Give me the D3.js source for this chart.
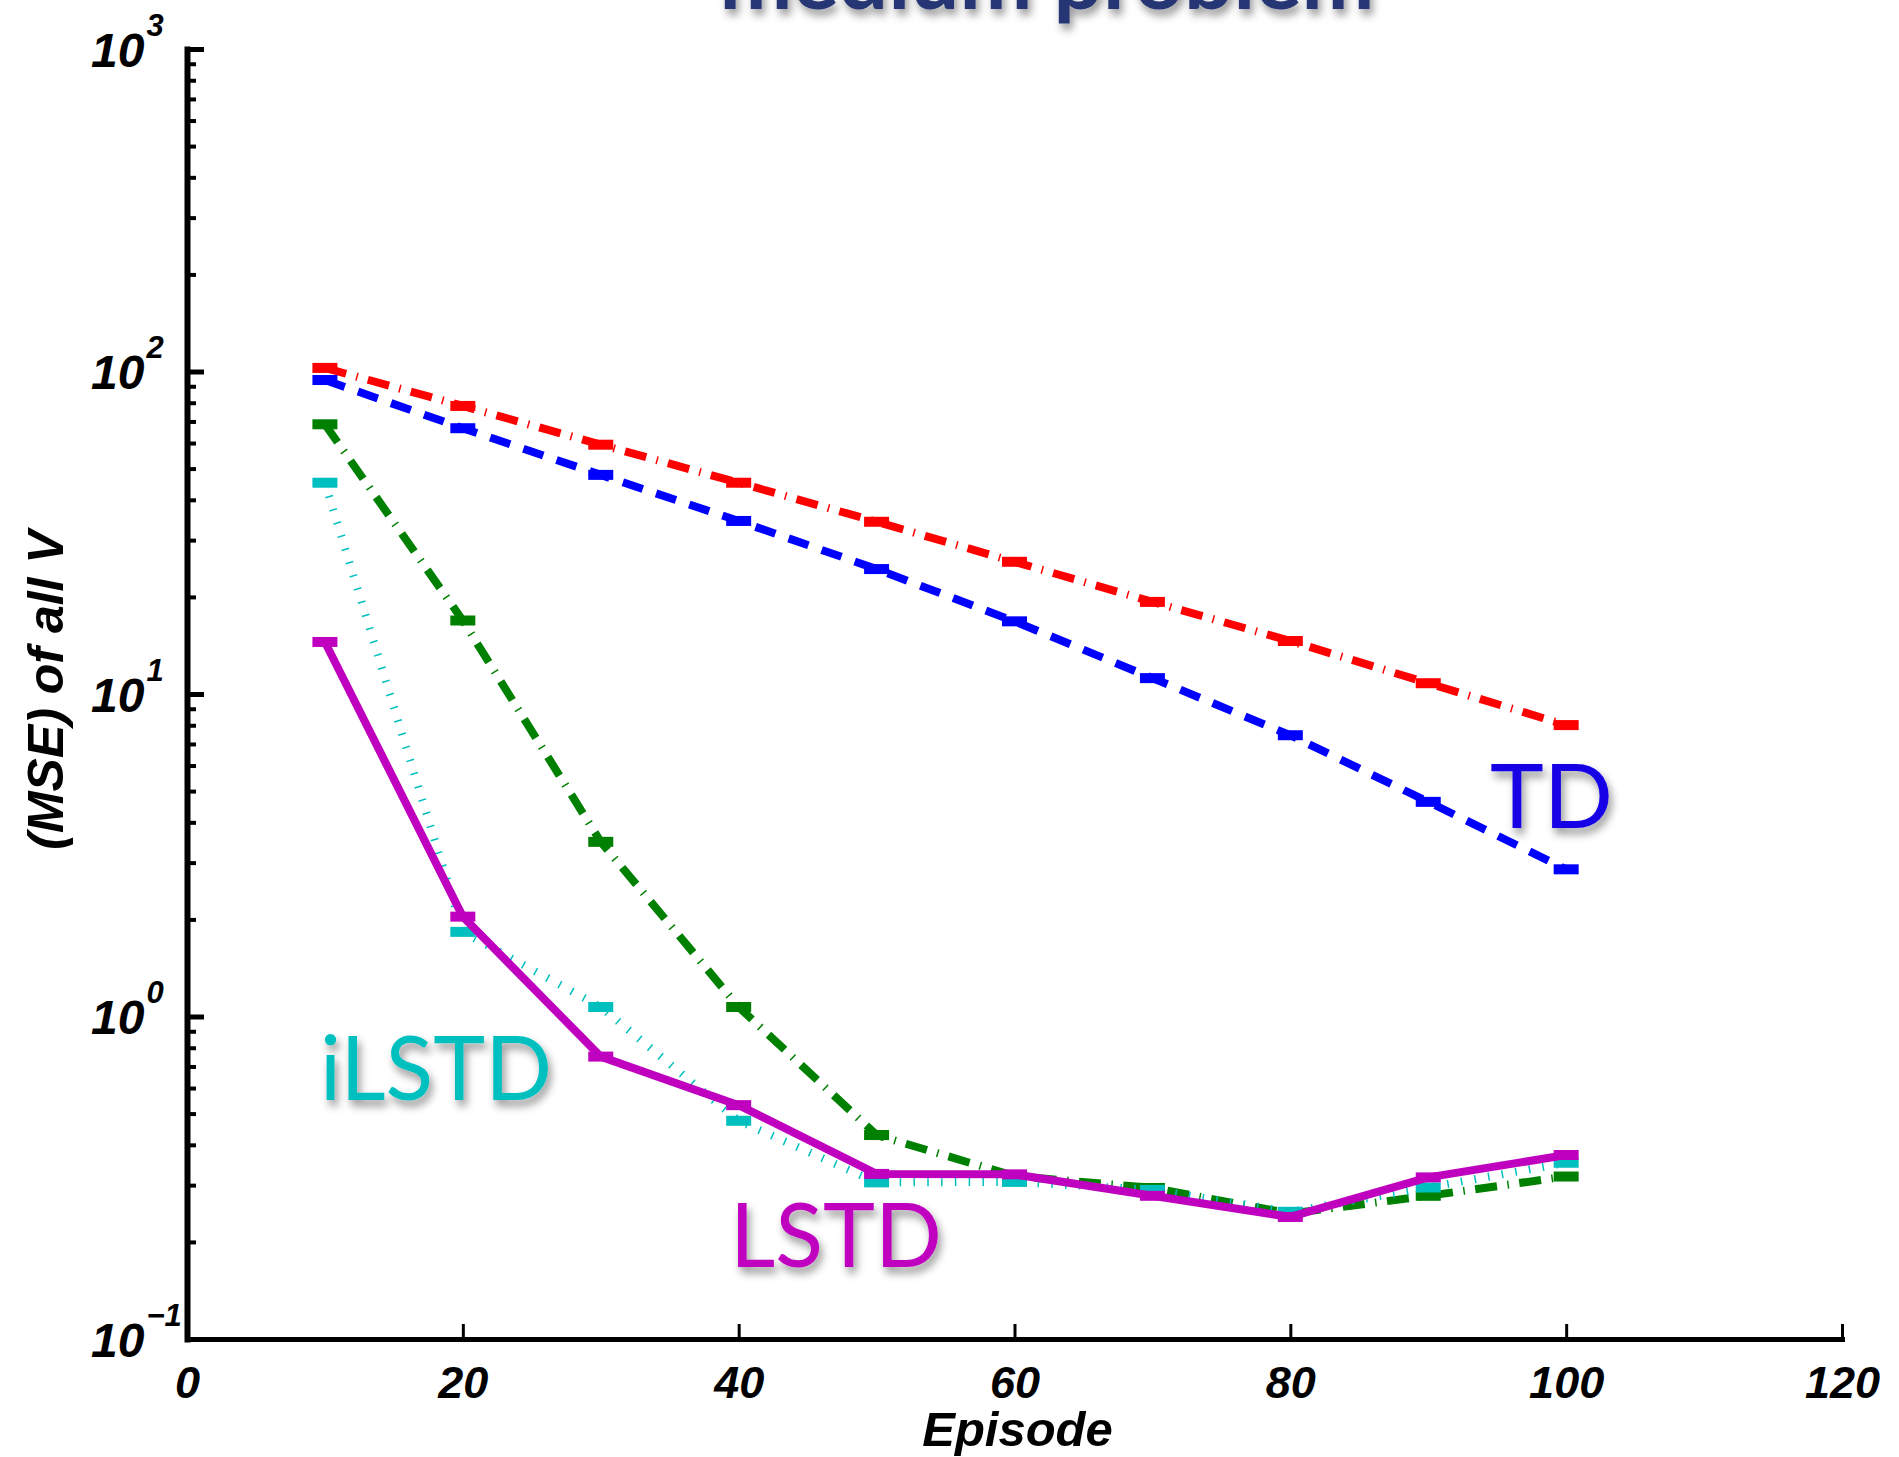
<!DOCTYPE html>
<html>
<head>
<meta charset="utf-8">
<script src="https://cdn.jsdelivr.net/npm/d3@7"></script>
<style>
  body { margin: 0; background: #fff; }
  svg { display: block; }
</style>
</head>
<body>
<script>
// ---- data -------------------------------------------------------------
const episodes = [10, 20, 30, 40, 50, 60, 70, 80, 90, 100];

const tdDashDot    = [102.6, 78.2, 59.3, 45.2, 34.2, 25.7, 19.3, 14.6, 10.8, 8.01];
const tdDashed     = [94.1, 66.7, 47.8, 34.4, 24.4, 16.8, 11.2, 7.45, 4.63, 2.86];
const greenDashDot = [68.6, 16.9, 3.48, 1.07, 0.429, 0.32, 0.294, 0.245, 0.278, 0.319];
const ilstdDotted  = [45.2, 1.83, 1.07, 0.475, 0.306, 0.307, 0.290, 0.248, 0.295, 0.352];
const lstdSolid    = [14.5, 2.04, 0.751, 0.531, 0.325, 0.324, 0.278, 0.239, 0.317, 0.372];

const xTickValues = [0, 20, 40, 60, 80, 100, 120];
const yDecades = [0.1, 1, 10, 100, 1000];

const chartTitle = "medium problem";
const xTitle = "Episode";
const yTitle = "(MSE) of all V";

// ---- layout -----------------------------------------------------------
const W = 1899, H = 1457;
const plotLeft = 187, plotRight = 1842, plotTop = 49, plotBottom = 1339;

const svg = d3.select("body").append("svg")
  .attr("width", W).attr("height", H)
  .style("background", "#fff");

const defs = svg.append("defs");
const shadow = defs.append("filter").attr("id", "txtShadow")
  .attr("x", "-20%").attr("y", "-30%").attr("width", "150%").attr("height", "170%");
shadow.append("feDropShadow")
  .attr("dx", 3).attr("dy", 6).attr("stdDeviation", 4)
  .attr("flood-color", "#000").attr("flood-opacity", 0.42);

const x = d3.scaleLinear().domain([0, 120]).range([plotLeft, plotRight]);
const y = d3.scaleLog().domain([0.1, 1000]).range([plotBottom, plotTop]);

const axisFont = "'Liberation Sans', Arial, Helvetica, sans-serif";
const labelFont = "Lato, 'Open Sans', sans-serif";

// ---- series -----------------------------------------------------------
const series = [
  { values: tdDashDot,    color: "#ff0000", dash: "22,10.5,1.5,10.5" },
  { values: tdDashed,     color: "#0000ff", dash: "21,14" },
  { values: greenDashDot, color: "#008000", dash: "22,10.5,1.5,10.5" },
  { values: ilstdDotted,  color: "#00bfbf", dash: "1.5,12.3" },
  { values: lstdSolid,    color: "#bf00bf", dash: null }
];

const line = d3.line()
  .x((d, i) => x(episodes[i]))
  .y(d => y(d));

const plot = svg.append("g");
series.forEach(s => {
  const g = plot.append("g");
  g.append("path")
    .datum(s.values)
    .attr("d", line)
    .attr("fill", "none")
    .attr("stroke", s.color)
    .attr("stroke-width", 8)
    .attr("stroke-linejoin", "round")
    .attr("stroke-dasharray", s.dash);
  // error-bar caps at each sampled episode
  g.selectAll("rect")
    .data(s.values)
    .join("rect")
    .attr("x", (d, i) => x(episodes[i]) - 12.5)
    .attr("y", d => y(d) - 5)
    .attr("width", 25)
    .attr("height", 10)
    .attr("fill", s.color);
});

// ---- axes -------------------------------------------------------------
const xAxis = d3.axisBottom(x)
  .tickValues(xTickValues)
  .tickSizeInner(-15)
  .tickSizeOuter(0)
  .tickPadding(27)
  .tickFormat(d3.format("d"));

const gx = svg.append("g")
  .attr("transform", `translate(0,${plotBottom})`)
  .call(xAxis);
gx.select(".domain").attr("stroke", "#000").attr("stroke-width", 5).attr("stroke-linecap", "square");
gx.selectAll(".tick line").attr("stroke", "#000").attr("stroke-width", 3);
gx.selectAll(".tick text")
  .attr("fill", "#000")
  .style("font-family", axisFont)
  .style("font-size", "45px")
  .style("font-weight", "bold")
  .style("font-style", "italic");

// minor ticks on the log axis
const yMinor = [];
yDecades.slice(0, -1).forEach(d => {
  for (let k = 2; k <= 9; k++) yMinor.push(d * k);
});

const gyMinor = svg.append("g")
  .attr("transform", `translate(${plotLeft},0)`)
  .call(d3.axisLeft(y).tickValues(yMinor).tickSizeInner(-9).tickSizeOuter(0).tickFormat(""));
gyMinor.select(".domain").remove();
gyMinor.selectAll(".tick line").attr("stroke", "#000").attr("stroke-width", 4);

const gy = svg.append("g")
  .attr("transform", `translate(${plotLeft},0)`)
  .call(d3.axisLeft(y).tickValues(yDecades).tickSizeInner(-17).tickSizeOuter(0).tickFormat(""));
gy.select(".domain").attr("stroke", "#000").attr("stroke-width", 6).attr("stroke-linecap", "square");
gy.selectAll(".tick line").attr("stroke", "#000").attr("stroke-width", 5);

gy.selectAll(".tick text").each(function(d) {
  const t = d3.select(this)
    .attr("x", -96)
    .attr("dy", null)
    .attr("text-anchor", "start")
    .attr("fill", "#000")
    .style("font-family", axisFont)
    .style("font-weight", "bold")
    .style("font-style", "italic")
    .text(null);
  const e = Math.round(Math.log10(d));
  t.append("tspan").attr("dy", 17).style("font-size", "48px").text("10");
  t.append("tspan").attr("dy", -31).attr("dx", 2).style("font-size", "31px")
    .text(e < 0 ? "\u2212" + Math.abs(e) : String(e));
});

// ---- axis titles ------------------------------------------------------
svg.append("text")
  .attr("x", (plotLeft + plotRight) / 2 + 3)
  .attr("y", 1446)
  .attr("text-anchor", "middle")
  .style("font-family", axisFont)
  .style("font-size", "49px")
  .style("font-weight", "bold")
  .style("font-style", "italic")
  .text(xTitle);

svg.append("text")
  .attr("transform", `translate(63,${(plotTop + plotBottom) / 2 - 4}) rotate(-90)`)
  .attr("text-anchor", "middle")
  .style("font-family", axisFont)
  .style("font-size", "50px")
  .style("font-weight", "bold")
  .style("font-style", "italic")
  .text(yTitle);

// ---- chart title (runs off the top edge) ------------------------------
svg.append("text")
  .attr("x", 1047)
  .attr("y", 9)
  .attr("text-anchor", "middle")
  .attr("textLength", 655)
  .attr("lengthAdjust", "spacingAndGlyphs")
  .attr("filter", "url(#txtShadow)")
  .style("font-family", labelFont)
  .style("font-size", "84px")
  .style("font-weight", 700)
  .attr("fill", "#283673")
  .text(chartTitle);

// ---- series labels ----------------------------------------------------
const seriesLabels = [
  { text: "TD",    color: "#1500e6", x: 1490, y: 828,  len: 123 },
  { text: "iLSTD", color: "#00bfbf", x: 320,  y: 1100, len: 232 },
  { text: "LSTD",  color: "#bf00bf", x: 730,  y: 1267, len: 212 }
];
svg.append("g").selectAll("text")
  .data(seriesLabels)
  .join("text")
  .attr("x", d => d.x)
  .attr("y", d => d.y)
  .attr("textLength", d => d.len)
  .attr("lengthAdjust", "spacingAndGlyphs")
  .attr("filter", "url(#txtShadow)")
  .attr("fill", d => d.color)
  .style("font-family", labelFont)
  .style("font-size", "90px")
  .style("font-weight", 400)
  .text(d => d.text);
</script>
</body>
</html>
